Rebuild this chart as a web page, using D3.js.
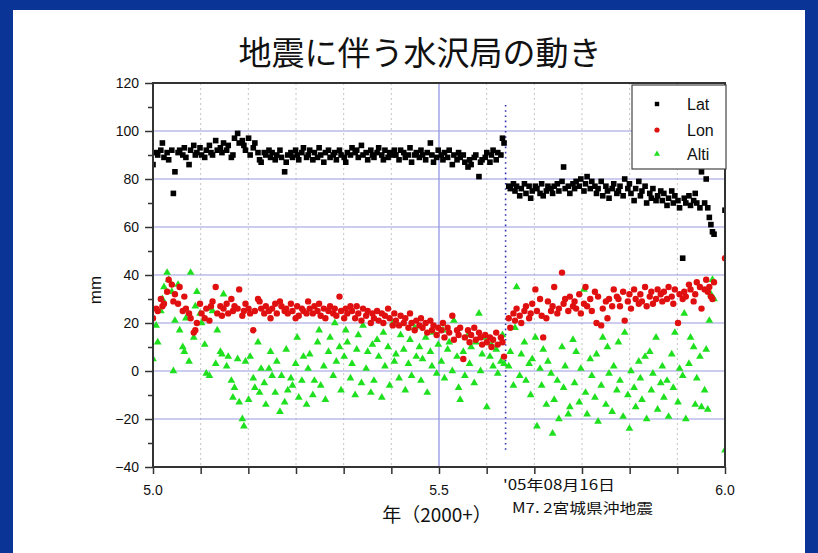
<!DOCTYPE html>
<html>
<head>
<meta charset="utf-8">
<script src="https://cdn.jsdelivr.net/npm/d3@7"></script>
<style>
  html, body { margin: 0; padding: 0; background: #fff; }
  svg { display: block; }
</style>
</head>
<body>
<svg id="chart" width="818" height="553"></svg>
<script>
// Day of year 2005 for each daily GPS solution
const days = [
  0,2,3,5,6,7,9,10,12,13,
  14,16,17,19,20,21,23,24,26,27,
  28,30,31,33,34,36,37,38,40,41,
  43,44,45,47,48,50,51,52,54,55,
  57,58,59,61,62,64,65,67,68,69,
  71,72,74,75,76,78,79,81,82,84,
  85,86,88,89,91,92,93,95,96,98,
  99,100,102,103,105,106,107,109,110,112,
  113,115,116,117,119,120,122,123,124,126,
  127,129,130,131,133,134,136,137,139,140,
  141,143,144,146,147,148,150,151,153,154,
  155,157,158,160,161,163,164,165,167,168,
  170,171,172,174,175,177,178,179,181,182,
  184,185,186,188,189,191,192,194,195,196,
  198,199,201,202,203,205,206,208,209,210,
  212,213,215,216,217,219,220,222,223,224,
  227,228,230,231,232,234,235,237,238,240,
  241,242,244,245,247,248,249,251,252,254,
  255,256,258,259,261,262,263,265,266,268,
  269,270,272,273,275,276,277,279,280,282,
  283,284,286,287,289,290,291,293,294,296,
  297,298,300,301,303,304,305,307,308,310,
  311,312,314,315,317,318,319,321,322,324,
  325,326,328,329,331,332,333,335,336,338,
  339,340,342,343,345,346,347,349,350,352,
  353,354,355,356,357,358,365
];

// Displacement components (mm)
const lat = [
  86,91,90,92,95,89,91,88,92,74,
  83,91,92,90,93,89,86,92,94,90,
  91,93,90,89,92,94,91,90,96,92,
  93,91,95,92,94,89,90,97,99,95,
  96,94,92,97,90,93,95,91,88,87,
  91,90,92,89,91,88,90,92,89,83,
  87,90,91,89,92,90,88,91,93,89,
  90,92,88,91,89,93,90,87,91,92,
  89,90,91,88,92,90,89,87,91,90,
  93,91,92,89,94,90,91,88,92,90,
  89,91,93,90,88,92,89,91,90,92,
  90,88,92,91,89,90,93,87,90,91,
  89,92,90,88,91,95,90,87,89,92,
  90,88,91,89,92,86,90,88,91,89,
  90,87,85,88,86,89,90,81,87,88,
  89,91,87,90,92,88,91,90,97,95,
  77,76,78,75,77,73,76,78,74,77,
  72,75,77,76,74,78,73,75,77,76,
  74,77,78,75,79,85,76,77,74,78,
  76,79,77,80,75,78,81,76,79,77,
  74,76,79,73,77,75,72,76,78,74,
  75,77,73,80,76,78,74,71,76,79,
  73,75,77,70,74,72,76,71,73,75,
  71,74,69,72,75,70,73,71,68,47,
  72,70,73,69,71,74,70,68,83,70,
  80,68,64,61,58,57,67
];

const lon = [
  22,26,25,30,27,28,33,38,36,29,
  32,28,35,25,31,26,24,22,16,17,
  20,28,24,22,26,21,27,29,35,24,
  27,23,26,28,24,30,25,27,26,34,
  23,25,28,26,24,17,25,30,29,26,
  24,27,25,22,26,28,24,29,27,25,
  26,24,28,25,22,27,23,26,25,24,
  29,26,24,27,25,28,23,26,22,25,
  27,24,26,23,31,25,22,26,24,27,
  25,22,27,24,21,26,23,25,20,24,
  22,25,21,24,20,23,26,22,19,24,
  21,19,23,20,22,18,24,20,17,21,
  19,22,18,20,16,21,17,19,15,18,
  17,20,14,18,16,23,13,17,15,18,
  5,14,17,12,15,18,13,16,14,11,
  15,12,14,10,13,16,11,14,12,6,
  22,18,24,21,26,23,20,25,27,22,
  24,28,34,25,30,23,14,22,29,25,
  27,35,24,26,41,28,30,25,31,27,
  29,26,32,24,28,35,27,30,25,33,
  20,31,19,26,29,22,30,27,34,31,
  30,27,33,21,29,32,26,34,30,28,
  32,29,35,27,31,33,28,30,34,32,
  29,33,30,35,31,28,34,20,32,30,
  33,31,36,34,29,32,37,35,26,34,
  38,33,35,31,30,37,47
];

const alti = [
  5,19,12,25,30,35,41,38,33,0,
  21,36,17,10,8,22,4,41,14,27,
  33,24,20,11,-1,-2,26,25,3,17,
  8,7,32,2,6,-4,-11,-7,5,-13,
  -20,-23,4,-12,6,-3,-7,12,-9,1,
  -5,-14,1,8,-2,-9,4,-17,-2,-13,
  9,-8,-3,-6,3,14,-11,-4,6,-14,
  1,7,-10,-4,12,17,-6,2,-12,8,
  14,-2,20,4,10,-8,6,17,12,-3,
  3,-10,9,15,-5,19,1,8,-9,11,
  -4,13,6,-11,16,2,10,-6,20,4,
  7,-3,15,9,-8,3,13,-2,18,6,
  10,-4,5,14,-9,8,2,16,-1,11,
  4,17,-3,9,12,0,21,6,-7,-12,
  8,-2,15,3,10,-5,12,24,0,7,
  14,-15,6,11,2,9,-1,4,15,3,
  2,8,-6,18,35,-2,7,12,-4,3,
  -10,5,14,-23,1,-6,9,-14,4,-1,
  -26,-12,-4,-20,10,-7,2,-18,-15,13,
  -5,8,-13,1,34,-9,-18,5,-2,-11,
  7,-21,-6,14,-14,10,-1,-17,2,-8,
  12,-4,-19,16,-10,-24,0,-7,-15,4,
  -3,-12,6,-20,8,-8,-1,14,-16,-5,
  2,-11,-4,-19,7,-7,16,-13,1,-2,
  24,-20,3,14,10,-14,-3,6,-15,-8,
  9,-16,21,32,38,30,-33
];

const seriesNames = ["Lat", "Lon", "Alti"];
const yTicks = [-40, -20, 0, 20, 40, 60, 80, 100, 120];
const xTickLabels = ["5.0", "5.5", "6.0"];
const quakeYear = 5 + 225 / 365;          // 2005-08-16
const quakeLabel = ["'05年08月16日", "M7. 2宮城県沖地震"];

const W = 818, H = 553;
const plot = { left: 153, right: 725, top: 83, bottom: 467 };

const svg = d3.select("#chart");

// Slide frame: dark blue band with white panel
svg.append("rect").attr("x", 0).attr("y", 0).attr("width", W).attr("height", H).attr("fill", "#0a3597");
svg.append("rect").attr("x", 13).attr("y", 10).attr("width", W - 26).attr("height", H - 10).attr("fill", "#ffffff");

const x = d3.scaleLinear().domain([5.0, 6.0]).range([plot.left, plot.right]);
const y = d3.scaleLinear().domain([-40, 120]).range([plot.bottom, plot.top]);

// Title
svg.append("text")
  .attr("x", 420).attr("y", 65)
  .attr("text-anchor", "middle")
  .attr("font-family", "'Noto Sans CJK JP', sans-serif")
  .attr("font-size", 33)
  .attr("fill", "#111")
  .text("地震に伴う水沢局の動き");

// Monthly vertical grid (dotted) and the mid-year line
const monthTicks = d3.range(1, 12).map(m => 5 + m / 12);
svg.append("g").selectAll("line").data(monthTicks.filter(v => Math.abs(v - 5.5) > 1e-6)).join("line")
  .attr("x1", d => x(d)).attr("x2", d => x(d))
  .attr("y1", plot.top).attr("y2", plot.bottom)
  .attr("stroke", "#c4c4c4").attr("stroke-width", 1).attr("stroke-dasharray", "2,3");
svg.append("line")
  .attr("x1", x(5.5)).attr("x2", x(5.5)).attr("y1", plot.top).attr("y2", plot.bottom)
  .attr("stroke", "#8c8ce0").attr("stroke-width", 1.2);

// Horizontal grid
svg.append("g").selectAll("line").data(yTicks.filter(v => v > -40 && v < 120)).join("line")
  .attr("x1", plot.left).attr("x2", plot.right)
  .attr("y1", d => y(d)).attr("y2", d => y(d))
  .attr("stroke", "#9a9ae0").attr("stroke-width", 1.2);

// Earthquake marker line
svg.append("line")
  .attr("x1", x(quakeYear)).attr("x2", x(quakeYear))
  .attr("y1", 105).attr("y2", 452)
  .attr("stroke", "#3434b0").attr("stroke-width", 1.6).attr("stroke-dasharray", "1.6,3.6");

// Data points, clipped to the plot area
svg.append("clipPath").attr("id", "plotClip").append("rect")
  .attr("x", plot.left).attr("y", plot.top)
  .attr("width", plot.right - plot.left).attr("height", plot.bottom - plot.top);
const pts = svg.append("g").attr("clip-path", "url(#plotClip)");
const xOf = i => x(5 + days[i] / 365);

const altiPts = alti.map((v, i) => ({ i, v })).filter(d => d.v != null);
pts.append("g").selectAll("path").data(altiPts).join("path")
  .attr("d", d3.symbol(d3.symbolTriangle, 26)())
  .attr("transform", d => `translate(${xOf(d.i)},${y(d.v)})`)
  .attr("fill", "#1fe01f");

const lonPts = lon.map((v, i) => ({ i, v })).filter(d => d.v != null);
pts.append("g").selectAll("circle").data(lonPts).join("circle")
  .attr("cx", d => xOf(d.i)).attr("cy", d => y(d.v)).attr("r", 3.2)
  .attr("fill", "#e01010");

const latPts = lat.map((v, i) => ({ i, v })).filter(d => d.v != null);
pts.append("g").selectAll("rect").data(latPts).join("rect")
  .attr("x", d => xOf(d.i) - 2.8).attr("y", d => y(d.v) - 2.8)
  .attr("width", 5.6).attr("height", 5.6)
  .attr("fill", "#000");

// Plot frame
svg.append("rect")
  .attr("x", plot.left).attr("y", plot.top)
  .attr("width", plot.right - plot.left).attr("height", plot.bottom - plot.top)
  .attr("fill", "none").attr("stroke", "#333").attr("stroke-width", 2);

// Y axis
const yAxis = d3.axisLeft(y).tickValues(yTicks).tickSize(8).tickPadding(6)
  .tickFormat(d => d < 0 ? "\u2212" + Math.abs(d) : d);
const gy = svg.append("g").attr("transform", `translate(${plot.left},0)`).call(yAxis);
gy.select(".domain").remove();
gy.selectAll(".tick line").attr("stroke", "#333").attr("stroke-width", 1.5);
gy.selectAll(".tick text").attr("font-family", "'Liberation Sans', Arial, sans-serif").attr("font-size", 14).attr("fill", "#111");
const yMinor = d3.axisLeft(y).tickValues(d3.range(-30, 120, 20)).tickSize(5).tickFormat("");
const gym = svg.append("g").attr("transform", `translate(${plot.left},0)`).call(yMinor);
gym.select(".domain").remove();
gym.selectAll(".tick line").attr("stroke", "#333").attr("stroke-width", 1.5);

// X axis
const xAxis = d3.axisBottom(x).tickValues([5.0, ...monthTicks, 6.0]).tickSize(7).tickFormat("");
const gx = svg.append("g").attr("transform", `translate(0,${plot.bottom})`).call(xAxis);
gx.select(".domain").remove();
gx.selectAll(".tick line").attr("stroke", "#333").attr("stroke-width", 1.5);
svg.append("g").selectAll("text").data(xTickLabels).join("text")
  .attr("x", d => x(+d)).attr("y", 495)
  .attr("text-anchor", "middle")
  .attr("font-family", "'Liberation Sans', Arial, sans-serif").attr("font-size", 14).attr("fill", "#111")
  .text(d => d);

// Axis titles
svg.append("text")
  .attr("transform", "translate(101,290) rotate(-90)")
  .attr("text-anchor", "middle")
  .attr("font-family", "'Liberation Sans', Arial, sans-serif").attr("font-size", 17).attr("fill", "#111")
  .text("mm");
svg.append("text")
  .attr("x", 437).attr("y", 522)
  .attr("text-anchor", "middle")
  .attr("font-family", "'Noto Sans CJK JP', sans-serif").attr("font-size", 19).attr("fill", "#111")
  .text("年（2000+）");

// Earthquake annotation
svg.append("text")
  .attr("x", 503).attr("y", 490)
  .attr("font-family", "'Noto Sans CJK JP', sans-serif").attr("font-size", 14).attr("fill", "#111")
  .attr("textLength", 112).attr("lengthAdjust", "spacingAndGlyphs")
  .text(quakeLabel[0]);
svg.append("text")
  .attr("x", 512).attr("y", 513)
  .attr("font-family", "'Noto Sans CJK JP', sans-serif").attr("font-size", 14).attr("fill", "#111")
  .attr("textLength", 141).attr("lengthAdjust", "spacingAndGlyphs")
  .text(quakeLabel[1]);

// Legend
const legend = svg.append("g");
legend.append("rect")
  .attr("x", 632).attr("y", 85).attr("width", 94).attr("height", 84)
  .attr("fill", "#fff").attr("stroke", "#444").attr("stroke-width", 1.2);
const legY = [104, 130, 154];
const legColors = ["#000", "#e01010", "#1fe01f"];
seriesNames.forEach((name, k) => {
  const g = legend.append("g").attr("transform", `translate(657,${legY[k]})`);
  if (k === 0) g.append("rect").attr("x", -2.2).attr("y", -2.2).attr("width", 4.4).attr("height", 4.4).attr("fill", legColors[k]);
  if (k === 1) g.append("circle").attr("r", 2.6).attr("fill", legColors[k]);
  if (k === 2) g.append("path").attr("d", d3.symbol(d3.symbolTriangle, 16)()).attr("fill", legColors[k]);
  legend.append("text")
    .attr("x", 687).attr("y", legY[k] + 5.5)
    .attr("font-family", "'Liberation Sans', Arial, sans-serif").attr("font-size", 16).attr("fill", "#111")
    .text(name);
});
</script>
</body>
</html>
